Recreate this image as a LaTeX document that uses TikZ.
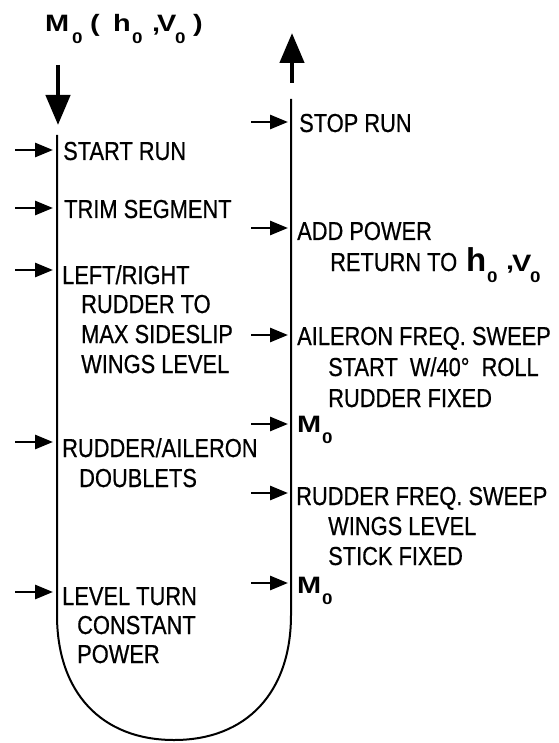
\documentclass[tikz,border=0pt]{standalone}
\usepackage{fontspec}
\usepackage{graphicx}
\usetikzlibrary{arrows.meta}
\setmainfont{Liberation Sans}[FakeStretch=0.84,FakeBold=0.6]
\newfontfamily\bfwide{Liberation Sans}[FakeStretch=1.22]
\newfontfamily\bfplain{Liberation Sans}
\newcommand\bodyfont{\fontsize{26}{30}\selectfont}
\newcommand\tsub[1]{\raisebox{-11.5pt}{\bfwide\bfseries\fontsize{15.4}{18}\selectfont #1}}
\newcommand\mfont{\bfwide\bfseries\fontsize{23.7}{28}\selectfont}
\tikzset{
  smallarr/.style={line width=2.8pt,-{Triangle[length=18pt,width=14pt]}},
  bigarr/.style={line width=4.5pt,-{Triangle[length=30pt,width=24pt]}},
  track/.style={line width=2pt,line join=round},
  lbl/.style={anchor=base west,inner sep=0pt,font=\bodyfont},
  mlbl/.style={anchor=base west,inner sep=0pt,font=\mfont},
}
\begin{document}
\begin{tikzpicture}[x=1pt,y=-1pt]
\useasboundingbox (0,0) rectangle (558,743);
% title
\node[mlbl] (title) at (45,32) {\makebox[27pt][l]{M}\makebox[18pt][l]{\tsub{0}}\makebox[23pt][l]{(}\makebox[19pt][l]{h}\makebox[20pt][l]{\tsub{0}}\makebox[5pt][l]{,}\makebox[18pt][l]{V}\makebox[18pt][l]{\tsub{0}})};
% big arrows
\coordinate (inS) at (58,65);
\coordinate (inE) at (58,125);
\coordinate (outS) at (292,83);
\coordinate (outE) at (292,33);
\draw[bigarr] (inS) -- (inE);
\draw[bigarr] (outS) -- (outE);
% track
\coordinate (ltop) at (57,135);
\coordinate (rtop) at (291,99);
\draw[track] (ltop) -- (57,615) .. controls (57,692.5) and (101.5,740) .. (174,740)
  .. controls (246.5,740) and (291,692.5) .. (291,615) -- (rtop);
% left side arrows
\foreach \n/\y in {a/150,b/208,c/270,d/442,e/592}{
  \coordinate (l\n s) at (15,\y);
  \coordinate (l\n e) at (53,\y);
  \draw[smallarr] (l\n s) -- (l\n e);
}
% right side arrows
\foreach \n/\y in {a/122,b/228,c/335,d/424,e/493,f/583}{
  \coordinate (r\n s) at (251,\y);
  \coordinate (r\n e) at (288,\y);
  \draw[smallarr] (r\n s) -- (r\n e);
}
% left texts
\node[lbl] (t1) at (63,160) {START RUN};
\node[lbl] (t2) at (64,218) {TRIM SEGMENT};
\node[lbl] (t3a) at (62,284) {LEFT/RIGHT};
\node[lbl] (t3b) at (81,313) {RUDDER TO};
\node[lbl] (t3c) at (81,343) {MAX SIDESLIP};
\node[lbl] (t3d) at (81,373) {WINGS LEVEL};
\node[lbl] (t4a) at (62,457) {RUDDER/AILERON};
\node[lbl] (t4b) at (79,487) {DOUBLETS};
\node[lbl] (t5a) at (62,605) {LEVEL TURN};
\node[lbl] (t5b) at (77,634) {CONSTANT};
\node[lbl] (t5c) at (77,663) {POWER};
% right texts
\node[lbl] (s1) at (299,132) {STOP RUN};
\node[lbl] (s2a) at (297,240) {ADD POWER};
\node[lbl] (s2b) at (330,271) {RETURN TO};
\node[anchor=base west,inner sep=0pt] (s2c) at (466,271) {\makebox[21pt][l]{\bfplain\bfseries\fontsize{33}{40}\selectfont h}\makebox[19pt][l]{\tsub{0}}\makebox[6pt][l]{\mfont\raisebox{2pt}{,}}\makebox[18pt][l]{\mfont V}\tsub{0}};
\node[lbl] (s3a) at (297,345) {AILERON FREQ. SWEEP};
\node[lbl] (s3b) at (328,376) {START\hspace{6pt} W/40°\hspace{6pt} ROLL};
\node[lbl] (s3c) at (328,407) {RUDDER FIXED};
\node[mlbl] (s4) at (297,432) {\makebox[25pt][l]{M}\tsub{0}};
\node[lbl] (s5a) at (296,505) {RUDDER FREQ. SWEEP};
\node[lbl] (s5b) at (328,535) {WINGS LEVEL};
\node[lbl] (s5c) at (328,565) {STICK FIXED};
\node[mlbl] (s6) at (297,593) {\makebox[25pt][l]{M}\tsub{0}};
\end{tikzpicture}
\end{document}
